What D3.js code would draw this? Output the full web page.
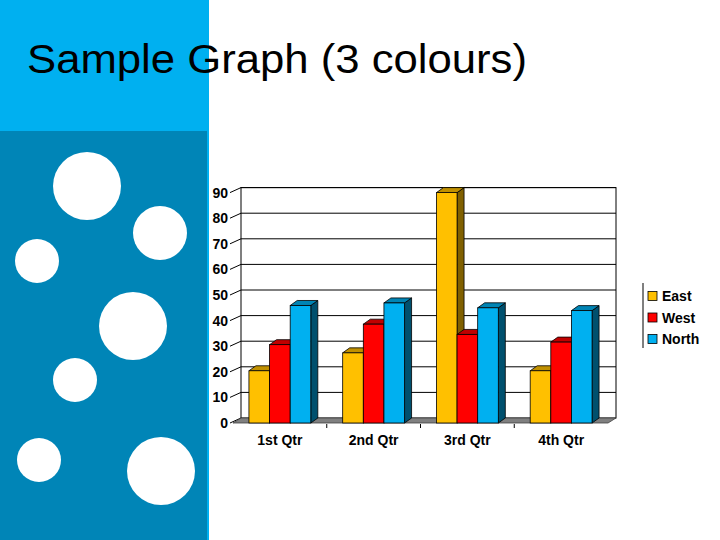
<!DOCTYPE html>
<html>
<head>
<meta charset="utf-8">
<script src="https://cdn.jsdelivr.net/npm/d3@7"></script>
<style>
  body { margin: 0; background: #fff; }
  svg { display: block; font-family: Arial, 'Liberation Sans', sans-serif; }
  .axis text { font-weight: bold; font-size: 14px; fill: #000; }
</style>
</head>
<body>
<svg id="chart" width="720" height="540"></svg>
<script>
// DATA
const quarters = ['1st Qtr', '2nd Qtr', '3rd Qtr', '4th Qtr'];
const seriesNames = ['East', 'West', 'North'];
const east = [20.4, 27.4, 90, 20.4];
const west = [30.6, 38.6, 34.6, 31.6];
const north = [45.9, 46.9, 45, 43.9];
const yTicks = [0, 10, 20, 30, 40, 50, 60, 70, 80, 90];

// decorative circles on the side panel: [cx, cy, r]
const circles = [[87, 186, 34], [160, 233, 27], [37, 261, 22], [133, 326, 34],
  [75, 380, 22], [39, 460, 22], [161, 471, 34]];

const seriesValues = [east, west, north];
const colors = {
  front: ['#ffc000', '#ff0000', '#00b0f0'],
  top: ['#c09000', '#c00000', '#0084b4'],
  side: ['#806000', '#800000', '#00506e']
};

const svg = d3.select('#chart');

// SIDE PANEL
svg.append('rect').attr('x', 0).attr('y', 0).attr('width', 209).attr('height', 540).attr('fill', '#00b0f0');
svg.append('rect').attr('x', 0).attr('y', 131).attr('width', 207).attr('height', 409).attr('fill', '#0085b7');
svg.selectAll('.dot').data(circles).enter().append('circle')
  .attr('class', 'dot')
  .attr('cx', d => d[0]).attr('cy', d => d[1]).attr('r', d => d[2])
  .attr('fill', '#fff');

// TITLE
svg.append('text')
  .attr('x', 27).attr('y', 73)
  .attr('font-size', 41)
  .attr('textLength', 500)
  .attr('lengthAdjust', 'spacingAndGlyphs')
  .text('Sample Graph (3 colours)');

// SCALES
const x0 = d3.scaleBand().domain(quarters).range([233, 608]).paddingInner(0.34).paddingOuter(0.17);
const x1 = d3.scaleBand().domain(seriesNames).range([0, x0.bandwidth()]);
const y = d3.scaleLinear().domain([0, 90]).range([423, 192.6]);

const WX = 8, WY = -5;   // depth of the back wall
const DX = 7, DY = -5;   // depth of a bar

// BACK WALL + GRID
const wall = svg.append('g');
wall.append('rect')
  .attr('x', x0.range()[0] + WX).attr('y', y(90) + WY)
  .attr('width', x0.range()[1] - x0.range()[0])
  .attr('height', y(0) - y(90))
  .attr('fill', '#fff').attr('stroke', '#000');
wall.selectAll('.grid').data(yTicks.slice(1)).enter().append('line')
  .attr('class', 'grid')
  .attr('x1', x0.range()[0] + WX).attr('x2', x0.range()[1] + WX)
  .attr('y1', d => y(d) + WY).attr('y2', d => y(d) + WY)
  .attr('stroke', '#000');

// slanted ticks from the front plane to the wall
wall.selectAll('.ytick').data(yTicks).enter().append('line')
  .attr('class', 'ytick')
  .attr('x1', x0.range()[0] - 3).attr('y1', d => y(d))
  .attr('x2', x0.range()[0] + WX).attr('y2', d => y(d) + WY)
  .attr('stroke', '#000');

// FLOOR
const fx0 = x0.range()[0], fx1 = x0.range()[1];
svg.append('polygon')
  .attr('points', [[fx0, y(0)], [fx0 + WX, y(0) + WY], [fx1 + WX, y(0) + WY], [fx1, y(0)]].join(' '))
  .attr('fill', '#808080').attr('stroke', '#404040').attr('stroke-width', 0.8);

// x ticks between categories
svg.selectAll('.xtick').data(quarters.slice(1)).enter().append('line')
  .attr('class', 'xtick')
  .attr('x1', d => x0(d) - x0.step() * 0.17).attr('x2', d => x0(d) - x0.step() * 0.17)
  .attr('y1', y(0) + 1).attr('y2', y(0) + 5)
  .attr('stroke', '#000');

// BARS (left to right so each front hides the previous side)
const bars = [];
quarters.forEach((q, i) => {
  seriesNames.forEach((s, j) => {
    bars.push({ q: q, s: s, j: j, value: seriesValues[j][i] });
  });
});

const bw = x1.bandwidth();
const barG = svg.selectAll('.bar').data(bars).enter().append('g').attr('class', 'bar');

barG.append('polygon') // side
  .attr('points', d => {
    const xr = x0(d.q) + x1(d.s) + bw, yt = y(d.value), yb = y(0);
    return [[xr, yb], [xr, yt], [xr + DX, yt + DY], [xr + DX, yb + DY]].join(' ');
  })
  .attr('fill', d => colors.side[d.j]).attr('stroke', '#000').attr('stroke-width', 0.8);

barG.append('polygon') // top
  .attr('points', d => {
    const xl = x0(d.q) + x1(d.s), yt = y(d.value);
    return [[xl, yt], [xl + DX, yt + DY], [xl + bw + DX, yt + DY], [xl + bw, yt]].join(' ');
  })
  .attr('fill', d => colors.top[d.j]).attr('stroke', '#000').attr('stroke-width', 0.8);

barG.append('rect') // front
  .attr('x', d => x0(d.q) + x1(d.s))
  .attr('y', d => y(d.value))
  .attr('width', bw)
  .attr('height', d => y(0) - y(d.value))
  .attr('fill', d => colors.front[d.j]).attr('stroke', '#000').attr('stroke-width', 0.8);

// AXES
svg.append('g')
  .attr('class', 'axis')
  .attr('transform', 'translate(230,0)')
  .call(d3.axisLeft(y).tickValues(yTicks).tickSize(0).tickPadding(2).tickFormat(d3.format('d')))
  .call(g => g.select('.domain').remove());

svg.append('g')
  .attr('class', 'axis')
  .attr('transform', 'translate(0,' + (y(0) + 6) + ')')
  .call(d3.axisBottom(x0).tickSize(0).tickPadding(6))
  .call(g => g.select('.domain').remove());

d3.selectAll('.axis text').attr('font-family', null).attr('font-size', null);

// LEGEND
const legend = svg.append('g').attr('transform', 'translate(643,283)');
legend.append('line').attr('x1', 0).attr('x2', 0).attr('y1', 0).attr('y2', 65).attr('stroke', '#000');
const item = legend.selectAll('.item').data(seriesNames).enter().append('g')
  .attr('class', 'item')
  .attr('transform', (d, i) => 'translate(5,' + (13 + i * 21.5) + ')');
item.append('rect')
  .attr('x', 0).attr('y', -4.5).attr('width', 9).attr('height', 9)
  .attr('fill', (d, i) => colors.front[i]).attr('stroke', '#000').attr('stroke-width', 0.8);
item.append('text')
  .attr('x', 14).attr('y', 5)
  .attr('font-size', 14).attr('font-weight', 'bold')
  .text(d => d);
</script>
</body>
</html>
